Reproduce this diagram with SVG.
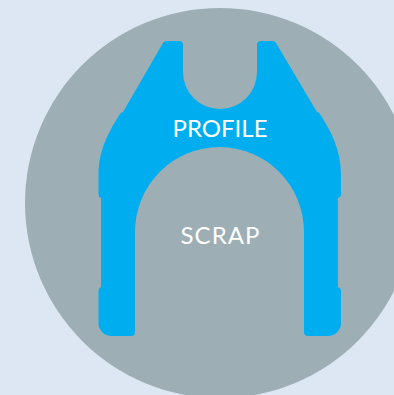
<svg xmlns="http://www.w3.org/2000/svg" width="394" height="395" viewBox="0 0 394 395">
<style>
text{font-family:"Lato","Liberation Sans",sans-serif;font-size:24px;fill:#fff}
</style>
<rect width="394" height="395" fill="#dde7f3"/>
<circle cx="220" cy="203" r="195" fill="#9dafb5"/>
<path id="profile" fill="#00aeef" d="M163 43Q164 41 167 41H179Q183 41 183 45V72A37 37 0 0 0 257 72V45Q257 41 261 41H273Q275 41 276 43L317 112Q319 112 320 114C331 131 341 150 341 175V194Q341 197 338 198V287Q341 288 341 291V323A13 13 0 0 1 328 336H308Q304 336 304 332V232A84.500 85 0 0 0 135 232V332Q135 336 131 336H111.500A13 13 0 0 1 98.500 323V291Q98.500 288 101 287V198Q98.500 197 98.500 194V175C98.500 150 109 131 120 114Q121 112 123 112Z"/>
<text x="172.500" y="136.500" textLength="95">PROFILE</text>
<text x="180.500" y="244" textLength="79">SCRAP</text>
</svg>
